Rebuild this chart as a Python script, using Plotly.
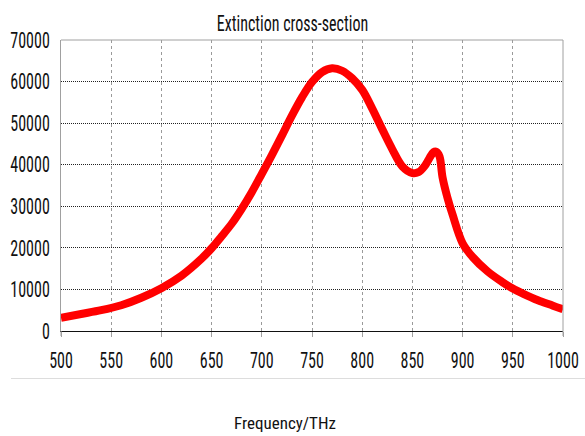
import plotly.graph_objects as go

# Extinction cross-section spectrum (frequency in THz)
freq_thz = [500, 520, 540, 560, 580, 600, 620, 640, 650, 660, 670, 680, 690,
            700, 710, 720, 730, 740, 750, 760, 770, 780, 790, 800, 810, 820,
            830, 840, 850, 856, 862, 867, 871, 874, 877, 880, 885, 890, 900,
            910, 925, 940, 950, 960, 975, 990, 1000]
extinction = [3200, 4100, 5000, 6200, 8000, 10300, 13300, 17400, 19900, 22800,
              25800, 29400, 33400, 37800, 42300, 47000, 51800, 56200, 59900,
              62300, 63200, 62600, 60800, 58000, 53500, 48500, 43700, 39600,
              38000, 38200, 39600, 41600, 43000, 43100, 42000, 37000, 32000,
              28000, 21100, 17800, 14300, 11700, 10200, 9000, 7400, 6100, 5200]

x_ticks = [500, 550, 600, 650, 700, 750, 800, 850, 900, 950, 1000]
y_ticks = [0, 10000, 20000, 30000, 40000, 50000, 60000, 70000]

FONT = "Roboto Condensed, Liberation Sans, Arial, sans-serif"
FONT_SIZE = 16
FRAME = "#a0a0a0"

fig = go.Figure()
fig.add_trace(go.Scatter(
    x=freq_thz, y=extinction, mode="lines",
    line=dict(color="#ff0000", width=8, shape="spline", smoothing=1.0),
    hoverinfo="x+y", showlegend=False,
))

fig.update_layout(
    width=585, height=436,
    margin=dict(l=61, r=22, t=40, b=105),
    paper_bgcolor="white", plot_bgcolor="white",
    font=dict(family=FONT, size=FONT_SIZE, color="#111111"),
    title=dict(text="Extinction cross-section", x=0.5, xanchor="center",
               y=1 - 23 / 436, yanchor="middle", yref="container",
               font=dict(family=FONT, size=FONT_SIZE, color="#111111")),
    xaxis=dict(range=[500, 1000], tickvals=x_ticks, ticktext=[str(v) for v in x_ticks],
               showgrid=True, gridcolor="#9a9a9a", griddash="3px,3px", gridwidth=1,
               showline=True, linecolor="#111111", linewidth=1,
               ticks="outside", ticklen=5, tickcolor=FRAME,
               ticklabelstandoff=10, zeroline=False, automargin=False),
    yaxis=dict(range=[0, 70000], tickvals=y_ticks, ticktext=[str(v) for v in y_ticks],
               showgrid=True, gridcolor="#222222", griddash="1px,1px", gridwidth=1,
               showline=True, linecolor=FRAME, linewidth=1,
               ticks="", ticklabelstandoff=7, automargin=False,
               zeroline=True, zerolinecolor="#111111", zerolinewidth=1),
)

# Plot frame: top and right edges, left edge extended below the axis
fig.add_shape(type="line", xref="paper", yref="paper", x0=0, x1=1, y0=1, y1=1,
              line=dict(color=FRAME, width=1))
fig.add_shape(type="line", xref="paper", yref="paper", x0=1, x1=1, y0=-5 / 291, y1=1,
              line=dict(color=FRAME, width=1))
fig.add_shape(type="line", xref="paper", yref="paper", x0=0, x1=0, y0=-5 / 291, y1=0,
              line=dict(color=FRAME, width=1))

# Separator line between the tick labels and the axis title
fig.add_shape(type="line", xref="paper", yref="paper",
              x0=(11 - 61) / 502, x1=(585 - 61) / 502,
              y0=(331 - 378.5) / 291, y1=(331 - 378.5) / 291,
              line=dict(color="#dddddd", width=1))

fig.add_annotation(text="Frequency/THz", xref="paper", yref="paper",
                   x=(285 - 61) / 502, y=(331 - 423) / 291,
                   xanchor="center", yanchor="middle", showarrow=False,
                   font=dict(family=FONT, size=17, color="#111111"))

# Stretch tick labels and title vertically about their own centre (tall, narrow typeface)
stretch_js = """
var gd = document.getElementById('{plot_id}');
gd.querySelectorAll('.xtick text, .ytick text, .gtitle').forEach(function (el) {
  var bb = el.getBBox();
  var cy = bb.y + bb.height / 2;
  var t = el.getAttribute('transform') || '';
  el.setAttribute('transform', t + ' translate(0,' + cy + ') scale(1,1.38) translate(0,' + (-cy) + ')');
});
"""

fig.write_html("out.html", post_script=stretch_js)
